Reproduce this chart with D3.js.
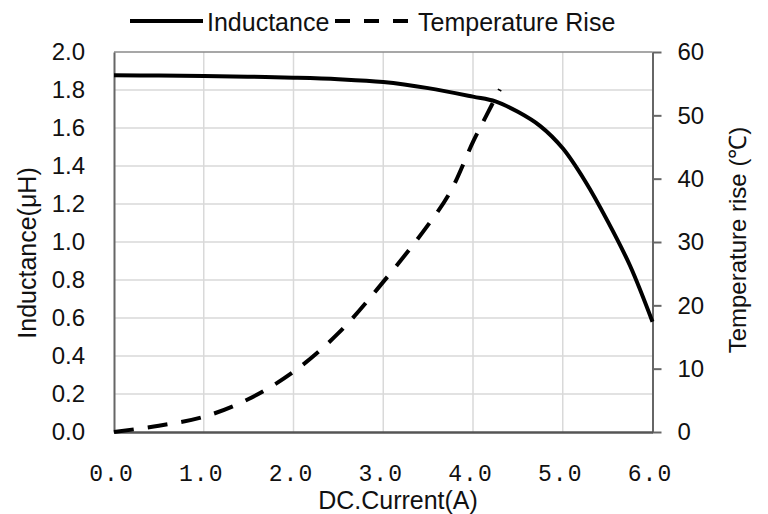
<!DOCTYPE html>
<html>
<head>
<meta charset="utf-8">
<script src="https://cdn.jsdelivr.net/npm/d3@7"></script>
<style>
  body { margin: 0; background: #fff; }
  text { font-family: "Liberation Sans", Arial, sans-serif; fill: #111; }
</style>
</head>
<body>
<svg id="chart" width="768" height="514"></svg>
<script>
// DC current (A) for the inductance curve
var indCurrent = [0, 0.5, 1.0, 1.5, 2.0, 2.5, 3.0, 3.5, 4.0, 4.25, 4.5, 4.75, 5.0, 5.25, 5.5, 5.75, 6.0];
// inductance (uH)
var inductance = [1.877, 1.876, 1.874, 1.870, 1.865, 1.857, 1.842, 1.81, 1.765, 1.74, 1.685, 1.61, 1.493, 1.32, 1.11, 0.875, 0.58];

// DC current (A) for the temperature curve
var tempCurrent = [0, 0.5, 1.0, 1.5, 2.0, 2.5, 3.0, 3.5, 3.75, 4.0, 4.15, 4.3];
// temperature rise (C)
var tempRise = [0, 1.0, 2.4, 5.2, 9.5, 15.6, 23.7, 32.7, 38.0, 45.8, 50.0, 54.1];

var xTicks = [0, 1, 2, 3, 4, 5, 6];
var yTicks = [0, 0.2, 0.4, 0.6, 0.8, 1.0, 1.2, 1.4, 1.6, 1.8, 2.0];
var yRTicks = [0, 10, 20, 30, 40, 50, 60];

var svg = d3.select("#chart");

var x = d3.scaleLinear().domain([0, 6]).range([114, 652.5]);
var y = d3.scaleLinear().domain([0, 2]).range([432, 52]);
var yR = d3.scaleLinear().domain([0, 60]).range([432, 52]);

// grid
var grid = svg.append("g");
grid.selectAll(".hg")
    .data(yTicks.slice(1, -1))
    .enter().append("line")
    .attr("x1", x(0)).attr("x2", x(6))
    .attr("y1", function(d) { return y(d); })
    .attr("y2", function(d) { return y(d); })
    .attr("stroke", "#d9d9d9")
    .attr("stroke-width", 1.5);
grid.selectAll(".vg")
    .data(xTicks.slice(1, -1))
    .enter().append("line")
    .attr("y1", y(0)).attr("y2", y(2))
    .attr("x1", function(d) { return x(d); })
    .attr("x2", function(d) { return x(d); })
    .attr("stroke", "#d9d9d9")
    .attr("stroke-width", 1.5);

// top border
svg.append("line")
    .attr("x1", x(0)).attr("x2", x(6))
    .attr("y1", y(2)).attr("y2", y(2))
    .attr("stroke", "#8a8a8a").attr("stroke-width", 1.5);

// left axis
var left = svg.append("g")
    .attr("transform", "translate(" + x(0) + ",0)")
    .call(d3.axisLeft(y).tickValues(yTicks).tickSize(0).tickPadding(29).tickFormat(d3.format(".1f")));
left.select(".domain").attr("stroke", "#666").attr("stroke-width", 2);
left.selectAll("text").style("font-size", "24px").attr("fill", "#111");

// right axis
var right = svg.append("g")
    .attr("transform", "translate(" + x(6) + ",0)")
    .call(d3.axisRight(yR).tickValues(yRTicks).tickSizeInner(9).tickSizeOuter(0).tickPadding(16));
right.select(".domain").attr("stroke", "#666").attr("stroke-width", 2);
right.selectAll(".tick line").attr("stroke", "#666").attr("stroke-width", 2);
right.selectAll("text").style("font-size", "24px").attr("fill", "#111");

// bottom axis
var bottom = svg.append("g")
    .attr("transform", "translate(0," + y(0) + ")")
    .call(d3.axisBottom(x).tickValues(xTicks).tickSize(0).tickPadding(33).tickFormat(d3.format(".1f")));
bottom.select(".domain").attr("stroke", "#555").attr("stroke-width", 2.5);
bottom.selectAll("text")
    .attr("dx", -3)
    .style("font-family", "'Liberation Mono', 'DejaVu Sans Mono', monospace")
    .style("font-size", "23px")
    .style("letter-spacing", "1px")
    .attr("fill", "#7a7a7a");

// lines
var indLine = d3.line()
    .x(function(d, i) { return x(indCurrent[i]); })
    .y(function(d) { return y(d); })
    .curve(d3.curveCatmullRom.alpha(0.5));
svg.append("path")
    .datum(inductance)
    .attr("d", indLine)
    .attr("fill", "none")
    .attr("stroke", "#000")
    .attr("stroke-width", 4);

var tempLine = d3.line()
    .x(function(d, i) { return x(tempCurrent[i]); })
    .y(function(d) { return yR(d); })
    .curve(d3.curveCatmullRom.alpha(0.5));
svg.append("path")
    .datum(tempRise)
    .attr("d", tempLine)
    .attr("fill", "none")
    .attr("stroke", "#000")
    .attr("stroke-width", 4)
    .attr("stroke-dasharray", "20,14");

// axis titles
svg.append("text")
    .attr("transform", "translate(36,253) rotate(-90)")
    .attr("text-anchor", "middle")
    .style("font-size", "25px")
    .text("Inductance(μH)");

svg.append("text")
    .attr("transform", "translate(746,240) rotate(-90)")
    .attr("text-anchor", "middle")
    .style("font-size", "24px")
    .text("Temperature rise (℃)");

svg.append("text")
    .attr("x", 398).attr("y", 509)
    .attr("text-anchor", "middle")
    .style("font-size", "25px")
    .text("DC.Current(A)");

// legend
var legend = svg.append("g");
legend.append("line")
    .attr("x1", 130).attr("x2", 203).attr("y1", 21).attr("y2", 21)
    .attr("stroke", "#000").attr("stroke-width", 4);
legend.append("text")
    .attr("x", 207).attr("y", 31)
    .style("font-size", "25px")
    .text("Inductance");
legend.append("line")
    .attr("x1", 335).attr("x2", 410).attr("y1", 21).attr("y2", 21)
    .attr("stroke", "#000").attr("stroke-width", 4)
    .attr("stroke-dasharray", "15,14");
legend.append("text")
    .attr("x", 418).attr("y", 31)
    .style("font-size", "25px")
    .text("Temperature Rise");
</script>
</body>
</html>
